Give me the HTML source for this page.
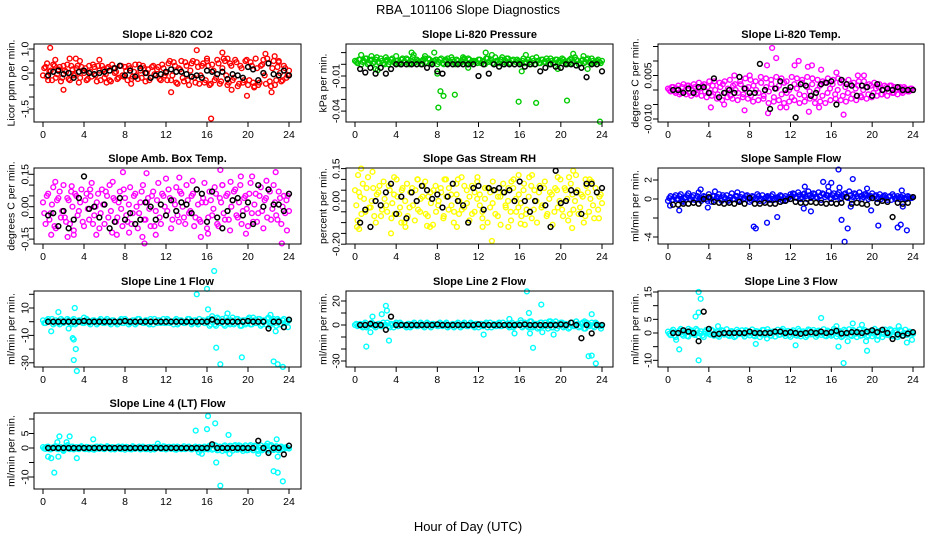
<!DOCTYPE html>
<html><head><meta charset="utf-8">
<style>
html,body{margin:0;padding:0;background:#fff;}
svg{display:block;font-family:"Liberation Sans",Arial,sans-serif;}
</style></head>
<body>
<svg id="chart" width="936" height="540" viewBox="0 0 936 540" xmlns="http://www.w3.org/2000/svg">
<text x="468" y="14" text-anchor="middle" font-size="13">RBA_101106  Slope Diagnostics</text>
<text x="468" y="531" text-anchor="middle" font-size="13">Hour of Day (UTC)</text>
</svg>
<script>
const xTicks = [0,4,8,12,16,20,24];

// CO2
const co2Main = [-0.1,0.25,-0.3,0.1,0.35,-0.2,0.15,-0.35,0.3,0.05,-0.25,0.3,-0.1,0.2,-0.4,0.25,0.0,
-0.3,0.3,-0.15,0.25,-0.35,0.1,0.3,-0.2,0.2,-0.3,0.35,0.0,-0.25,0.3,-0.1,0.25,
-0.3,0.2,-0.15,0.35,-0.25,0.1,0.3,-0.35,0.15,-0.2,0.3,-0.1,0.25,-0.3,0.2,0.0,
0.4,-0.3,0.45,-0.4,0.2,0.5,-0.35,0.3,-0.5,0.4,-0.2,0.45,-0.45,0.3,-0.4,0.5,
-0.5,0.35,-0.3,0.55,-0.45,0.2,0.5,-0.5,0.4,-0.3,0.55,-0.55,0.3,-0.4,0.5,-0.5,
0.45,-0.4,0.6,-0.5,0.3,0.55,-0.45,0.4,-0.55,0.5,-0.3,0.45,-0.35,0.3,-0.2,0.1];
const co2B = [0.2,-0.15,0.05,-0.3,0.3,-0.05,0.25,-0.2,0.1,0.35,-0.3,0.15,-0.05,0.3,-0.2,0.1,
0.2,-0.25,0.05,0.35,-0.1,0.3,-0.3,0.15,-0.05,0.25,-0.35,0.2,0.05,-0.2,0.3,-0.15,
0.1,0.3,-0.25,0.05,-0.1,0.35,-0.2,0.2,0.0,-0.3,0.25,-0.05,0.15,-0.25,0.35,-0.1,
-0.3,0.5,-0.1,0.3,-0.45,0.15,-0.2,0.45,-0.3,0.1,0.5,-0.4,0.25,-0.1,0.4,-0.3,
0.3,-0.45,0.1,-0.2,0.4,-0.35,0.6,-0.1,-0.4,0.3,-0.2,0.45,-0.45,0.2,-0.3,0.55,
-0.3,0.3,-0.55,0.2,-0.4,0.35,-0.1,0.6,-0.35,0.2,-0.5,0.25,0.0,-0.3,0.2,-0.1];
const co2OutX = [0.7,1.2,2.0,2.6,3.2,3.6,8.6,12.5,15.0,16.4,17.5,18.4,18.0,19.9,20.6,21.7,22.3,22.6,23.0,16.0,0.4,5.5,6.2];
const co2OutY = [1.05,0.55,-0.7,0.6,0.6,0.5,-0.45,-0.8,0.95,-1.9,0.85,-0.7,0.6,-0.95,-0.6,0.8,-0.8,0.7,0.5,0.6,0.4,0.55,-0.4];
const co2Black = [-0.1,0.05,0.1,-0.05,0.0,-0.2,0.05,0.1,0.0,-0.05,0.0,0.05,0.1,0.2,0.3,-0.1,0.1,-0.15,0.2,0.0,-0.2,-0.1,-0.05,0.05,0.15,0.05,0.05,-0.05,-0.15,-0.1,-0.2,0.1,0.05,-0.05,0.05,-0.25,-0.05,-0.1,-0.2,0.25,0.15,-0.3,0.0,0.4,-0.05,-0.1,0.1,-0.1];

// Pressure
const presMain = [0.003,0.001,0.004,0.002,0.005,0.0,0.003,0.001,0.004,0.002,0.005,0.001,0.003,0.0,0.004,0.002,0.003,
0.001,0.004,0.002,0.005,0.0,0.003,0.001,0.004,0.002,0.003,0.005,0.001,0.004,0.002,0.003,0.0,
0.004,0.001,0.003,0.005,0.002,0.004,0.0,0.003,0.001,0.004,0.002,0.005,0.001,0.003,0.002,0.004,
0.001,0.003,0.005,0.002,0.004,0.0,0.003,0.001,0.004,0.002,0.005,0.001,0.003,0.0,0.004,0.002,
0.003,0.001,0.004,0.002,0.005,0.0,0.003,0.001,0.004,0.002,0.003,0.005,0.001,0.004,0.002,0.003,
0.004,0.001,0.003,0.005,0.002,0.004,0.0,0.003,0.001,0.004,0.002,0.005,0.001,0.003,0.002,0.003];
const presB = [0.002,0.004,0.0,0.003,0.005,0.001,0.004,0.002,0.006,0.001,0.003,0.0,0.004,0.002,0.005,0.001,
0.003,0.0,0.005,0.002,0.004,0.001,0.006,0.002,0.003,0.0,0.004,0.002,0.005,0.001,0.003,0.004,
0.002,0.005,0.0,0.003,0.001,0.006,0.002,0.004,0.001,0.003,0.005,0.0,0.004,0.002,0.003,0.001,
0.004,0.002,0.0,0.005,0.003,0.001,0.006,0.002,0.004,0.0,0.003,0.005,0.001,0.004,0.002,0.003,
0.001,0.005,0.002,0.004,0.0,0.003,0.006,0.001,0.004,0.002,0.005,0.0,0.003,0.001,0.004,0.002,
0.005,0.002,0.0,0.004,0.001,0.006,0.003,0.001,0.004,0.002,0.005,0.001,0.003,0.002,0.004,0.001];
const presOutX = [0.6,1.6,2.0,5.5,5.7,6.8,7.7,8.1,8.3,8.6,9.7,8.8,8.0,12.7,13.3,15.9,16.2,16.6,17.6,20.6,21.2,22.2,22.6,23.8,3.0,4.0,10.5,14.3,2.2,11.0,19.7];
const presOutY = [0.008,0.007,-0.004,0.01,0.008,0.007,0.01,-0.037,-0.023,-0.027,-0.026,0.004,-0.008,0.01,0.008,-0.032,-0.006,0.008,-0.033,-0.031,0.009,0.007,-0.004,-0.049,0.006,0.007,0.006,0.006,-0.005,-0.003,-0.004];
const presBlack = [-0.004,-0.007,-0.003,-0.008,-0.003,-0.008,-0.004,0,0,0,0,0,0,-0.003,0,-0.006,-0.008,0,0,0,0,0,0,-0.01,0,-0.008,0,-0.002,0,0,0,0,-0.002,0,0,-0.006,-0.003,0,-0.002,-0.003,0,0,-0.001,-0.003,-0.011,0,0,-0.006];

// Li-820 Temp
const tempMain = [0.0005,-0.0005,0.001,-0.001,0.0015,-0.001,0.002,-0.0015,0.0015,-0.002,0.002,-0.0015,0.0025,-0.002,0.002,-0.0025,0.003,
-0.002,0.003,-0.003,0.0025,-0.0035,0.003,-0.0025,0.0035,-0.003,0.002,-0.0035,0.003,-0.0025,0.004,-0.003,
0.0035,-0.004,0.003,-0.0035,0.0045,-0.003,0.004,-0.0045,0.0035,-0.004,0.0045,-0.0035,0.004,-0.0045,0.003,-0.004,
0.0045,-0.0035,0.004,-0.0045,0.0035,-0.004,0.0045,-0.003,0.004,-0.0045,0.0035,-0.004,0.003,-0.0045,0.004,-0.0035,
0.0035,-0.003,0.004,-0.0035,0.003,-0.004,0.0035,-0.003,0.0025,-0.0035,0.003,-0.0025,0.003,-0.003,0.002,-0.0025,
0.0025,-0.002,0.002,-0.0015,0.0015,-0.002,0.0015,-0.001,0.001,-0.0015,0.001,-0.001,0.0005,-0.0005,0.0005,0.0];
const tempB = [0.0,0.001,-0.0005,0.0005,-0.0015,0.001,-0.0005,0.0015,-0.001,0.0,0.001,-0.001,0.0005,0.0015,-0.0005,0.001,
-0.001,0.0015,0.0,-0.0015,0.001,0.002,-0.001,0.0005,-0.002,0.0015,0.0,-0.001,0.002,-0.0015,0.0005,0.001,
-0.002,0.0015,0.0,-0.001,0.0025,-0.002,0.001,-0.0005,0.002,-0.0025,0.0005,0.0015,-0.0015,0.0025,-0.001,0.0,
-0.0025,0.002,0.0005,-0.0015,0.0025,-0.002,0.001,-0.0005,0.002,-0.0025,0.0,0.0015,-0.002,0.0025,-0.001,0.0005,
0.002,-0.0015,0.0,0.0025,-0.002,0.001,-0.001,0.002,-0.0015,0.0005,0.0015,-0.002,0.0,0.001,-0.0015,0.0015,
-0.001,0.0005,0.001,-0.0015,0.0,0.001,-0.0005,0.0015,-0.001,0.0,0.0005,-0.0005,0.001,0.0,-0.0005,0.0005];
const tempOutX = [10.2,10.6,9.7,12.8,12.4,13.7,14.1,17.2,9.8,13.8,7.5,16.5,18.6,5.5,11.0,6.5,15.0,4.2,8.0,11.6,14.8,19.2];
const tempOutY = [0.0145,0.011,0.0085,0.01,0.0085,0.008,0.0085,-0.0085,-0.008,-0.0075,-0.007,0.006,0.005,-0.005,-0.006,0.005,0.007,-0.006,0.005,-0.006,-0.006,0.005];
const tempBlack = [0,0,-0.001,0.0005,-0.001,0.001,0.001,-0.001,0.004,-0.0025,-0.001,0,-0.001,0.0045,0.0005,-0.001,-0.001,0.009,0,-0.0065,0.0005,0.003,0,0.001,-0.0095,0.002,0.0015,-0.002,-0.001,0.002,0.0025,0.003,-0.005,0.0035,0.002,0.0015,-0.002,0.0015,0.001,-0.002,0.002,0,0.0005,0,0.001,0,0,0];

// Amb box temp
const ambMain = [0.02,-0.08,0.06,-0.03,0.09,-0.1,0.04,-0.05,0.1,-0.07,0.03,0.07,-0.11,0.05,-0.02,0.08,-0.09,
0.06,-0.06,0.11,-0.04,0.02,-0.1,0.08,-0.08,0.05,0.1,-0.12,0.03,-0.05,0.07,-0.09,0.04,
-0.07,0.09,-0.03,0.06,-0.1,0.02,0.1,-0.06,0.04,-0.09,0.07,-0.02,0.11,-0.08,0.05,-0.04,
0.08,-0.1,0.03,0.09,-0.07,0.06,-0.05,0.1,-0.03,0.05,-0.09,0.08,-0.06,0.02,0.11,-0.1,
0.07,-0.04,0.09,-0.08,0.04,0.1,-0.06,0.06,-0.11,0.03,0.08,-0.05,0.1,-0.02,0.05,-0.09,
0.11,-0.07,0.06,-0.03,0.09,-0.1,0.04,0.08,-0.06,0.1,-0.04,0.07,-0.08,0.05,0.03,-0.02];
const ambB = [-0.03,0.05,-0.06,0.01,-0.09,0.03,0.07,-0.02,-0.05,0.04,-0.08,0.0,0.06,-0.04,0.02,-0.07,
0.03,-0.01,0.05,-0.08,0.0,0.06,-0.03,0.01,0.07,-0.05,-0.02,0.04,-0.07,0.02,-0.01,0.08,
-0.04,0.01,-0.08,0.05,0.0,-0.03,0.07,-0.06,0.02,-0.01,0.05,-0.09,0.03,-0.05,0.06,0.0,
-0.02,0.04,-0.06,0.01,-0.04,0.07,0.0,-0.08,0.03,-0.02,0.06,-0.05,0.01,-0.07,0.04,0.02,
-0.05,0.03,-0.01,0.06,-0.09,0.02,-0.03,0.05,-0.06,0.0,0.07,-0.04,0.02,-0.08,0.04,-0.01,
0.06,-0.03,0.01,-0.07,0.05,-0.02,0.03,-0.05,0.07,-0.01,0.02,-0.06,0.04,0.0,-0.03,0.05];
const ambOutX = [1.2,2.8,3.0,5.2,6.8,7.8,9.7,9.9,10.1,11.0,12.0,13.3,15.4,17.3,17.5,18.3,19.3,19.8,20.4,22.7,23.3,23.8,0.8,7.2,2.4,16.1,21.8,4.6,14.6,8.4];
const ambOutY = [0.115,0.095,-0.13,-0.13,0.115,0.16,-0.14,-0.17,0.155,-0.13,0.13,0.135,-0.14,0.17,0.1,0.115,0.14,-0.125,0.14,0.16,-0.17,-0.11,-0.13,-0.13,-0.14,-0.125,0.12,0.08,0.12,-0.12];
const ambBlack = [-0.04,-0.03,-0.09,-0.02,-0.1,-0.06,0.04,0.14,-0.01,0.0,-0.05,0.01,-0.1,-0.07,0.04,-0.06,-0.03,-0.08,-0.06,0.02,0.0,-0.06,0.01,-0.04,0.03,-0.02,0.02,0.01,-0.03,0.08,0.06,-0.07,0.07,-0.05,-0.1,-0.02,0.03,0.04,-0.04,0.02,-0.08,0.1,0.0,0.08,0.01,0.01,-0.02,0.06];

// Gas stream RH
const rhMain = [0.05,-0.09,0.02,0.08,-0.05,0.11,-0.03,0.06,-0.1,0.04,-0.07,0.09,-0.02,0.07,-0.08,0.03,0.1,
-0.06,0.05,-0.1,0.08,-0.03,0.06,-0.09,0.1,-0.05,0.02,0.09,-0.07,0.04,-0.11,0.07,-0.02,
0.06,-0.08,0.1,-0.04,0.03,-0.1,0.08,-0.06,0.11,-0.03,0.05,-0.09,0.07,-0.05,0.09,-0.02,
-0.08,0.06,-0.1,0.04,0.09,-0.06,0.02,-0.11,0.08,-0.03,0.06,-0.09,0.1,-0.05,0.03,-0.07,
0.08,-0.04,0.11,-0.08,0.05,-0.1,0.07,-0.02,0.09,-0.06,0.04,-0.11,0.06,-0.03,0.1,-0.07,
0.05,-0.09,0.08,-0.04,0.12,-0.06,0.03,-0.1,0.07,-0.05,0.09,-0.08,0.04,0.02,-0.01];
const rhB = [-0.02,0.04,-0.06,0.01,0.06,-0.03,0.0,-0.07,0.03,0.07,-0.04,0.01,-0.05,0.05,-0.01,-0.06,
0.02,-0.03,0.06,0.0,-0.07,0.04,-0.02,0.05,-0.04,0.01,0.07,-0.06,0.02,-0.01,0.05,-0.05,
0.0,0.04,-0.07,0.02,0.06,-0.02,-0.05,0.03,0.0,-0.04,0.07,-0.01,0.02,-0.06,0.04,0.01,
0.03,-0.05,0.01,0.06,-0.03,-0.01,0.05,-0.07,0.02,0.04,-0.02,0.0,-0.05,0.06,0.01,-0.03,
-0.01,0.05,-0.06,0.02,0.07,-0.04,0.0,0.04,-0.03,0.06,-0.07,0.01,0.03,-0.05,0.05,0.0,
-0.04,0.06,0.01,-0.06,0.03,0.0,0.05,-0.03,0.02,-0.07,0.04,0.01,-0.02,0.06,-0.04,0.03];
const rhOutX = [0.3,0.6,0.2,1.7,3.5,4.5,4.9,6.1,7.3,7.0,8.7,10.0,11.9,12.4,13.3,15.2,15.9,16.5,17.2,19.7,21.2,21.1,22.4,22.8,23.7,0.4,14.9,16.1,20.8,3.8,9.9];
const rhOutY = [0.12,0.15,-0.12,0.135,-0.15,-0.1,-0.12,0.1,-0.12,-0.115,0.1,0.1,0.11,-0.12,-0.185,0.09,0.12,-0.11,0.12,0.11,0.14,-0.125,0.1,0.1,-0.08,-0.13,-0.12,-0.105,0.11,0.11,-0.12];
const rhBlack = [-0.1,-0.04,-0.12,0.0,-0.02,0.04,0.08,-0.06,0.02,-0.08,0.04,0.0,0.07,0.05,0.01,0.03,-0.03,0.02,0.08,0.0,-0.02,-0.1,0.06,0.07,-0.04,0.06,0.05,0.06,0.04,0.05,0.0,0.09,0.0,-0.05,0.0,0.06,-0.02,-0.12,0.14,-0.01,0.0,0.05,0.04,-0.06,0.08,0.08,0.04,0.06];

// Sample flow
const sfMain = [-0.2,0.3,-0.1,0.4,0.0,0.5,-0.3,0.2,0.6,-0.1,0.4,0.1,0.7,-0.2,0.3,0.0,0.5,
-0.3,0.3,0.1,0.5,-0.2,0.2,0.4,-0.1,0.6,0.0,0.3,-0.2,0.5,0.1,0.4,-0.3,
0.3,0.0,0.5,-0.2,0.4,0.1,0.3,-0.1,0.5,0.0,0.2,0.4,-0.2,0.3,0.1,0.5,
0.6,0.2,0.7,0.0,0.5,0.3,0.8,0.1,0.6,0.2,0.7,-0.1,0.5,0.4,0.8,0.0,
0.6,0.3,0.7,0.1,0.5,0.2,0.8,-0.1,0.6,0.3,0.7,0.0,0.5,0.4,0.2,0.6,
0.3,0.0,0.5,0.2,0.4,-0.1,0.3,0.5,0.0,0.3,0.2,0.4,0.0,0.3,0.1,0.2];
const sfB = [0.1,-0.1,0.2,0.0,0.3,-0.2,0.1,0.4,0.0,0.2,-0.1,0.3,0.1,0.0,0.2,-0.2,
0.1,0.3,-0.1,0.2,0.0,0.4,0.1,-0.2,0.2,0.0,0.3,-0.1,0.2,0.0,0.3,0.1,
-0.1,0.2,0.1,0.3,0.0,-0.2,0.2,0.1,0.3,-0.1,0.1,0.0,0.3,0.1,-0.1,0.2,
0.3,0.5,0.1,0.4,0.2,0.6,0.0,0.4,0.3,0.5,0.1,0.3,0.6,0.2,0.4,0.1,
0.4,0.2,0.5,0.0,0.3,0.6,0.1,0.4,0.2,0.5,0.1,0.3,0.2,0.5,0.0,0.3,
0.1,0.4,0.2,0.0,0.3,0.1,0.2,-0.1,0.3,0.1,0.0,0.2,0.1,0.0,0.2,0.1];
const sfOutX = [8.4,8.6,9.7,10.7,13.4,15.2,15.7,16.0,16.7,16.8,17.0,17.3,17.6,18.1,19.5,20.6,22.5,22.8,23.4,22.9,1.1,3.2,4.6,3.9,14.0,13.3,19.9,23.0,0.2,17.9,6.8];
const sfOutY = [-2.9,-3.1,-2.5,-1.9,1.3,1.8,1.3,1.7,3.1,1.2,-2.2,-4.5,-3.1,2.1,1.1,-2.8,-3.0,-2.7,-3.3,0.9,-1.2,1.0,0.8,-0.9,-1.3,-1.0,-1.2,-0.8,-0.7,-0.8,0.7];
const sfBlack = [-0.6,-0.6,-0.5,-0.5,-0.4,-0.5,0.0,0.2,-0.3,-0.4,-0.5,-0.4,-0.5,-0.3,-0.5,0.1,-0.5,-0.5,-0.4,-0.5,-0.5,-0.3,-0.2,0.0,-0.3,-0.4,-0.4,-0.3,-0.4,-0.4,-0.5,-0.4,-0.5,-0.4,0.2,-0.5,-0.4,-0.5,-0.6,0.1,-0.4,-0.2,-0.3,-1.9,-0.4,-0.5,-0.4,0.2];

// Line 1 flow
const l1Main = [1,-1,2,0,-2,1,-1,2,-1,0,1,-2,2,-1,1,0,-1,
2,-1,0,1,-2,1,0,-1,2,-1,1,0,-2,1,-1,2,
0,-1,1,-2,2,0,-1,1,-1,2,-2,0,1,-1,2,-1,
1,0,-2,2,-1,1,-1,0,2,-2,1,-1,2,0,-1,1,
-3,2,-2,3,-1,2,-3,1,-2,3,-1,2,-3,1,-2,2,
-2,3,-1,2,-3,1,-2,3,-1,2,-3,1,-2,2,0,1];
const l1B = [-1,1,0,2,-1,0,-2,1,0,2,-1,1,-2,0,1,-1,
0,1,-2,1,0,-1,2,-1,1,0,-2,1,-1,0,2,-1,
1,-2,0,1,-1,2,0,-1,1,-2,0,2,-1,1,0,-1,
2,-1,0,1,-2,1,0,-1,2,0,-1,1,-2,0,1,-1,
2,-2,1,-3,2,0,-2,3,-1,1,-2,2,0,-3,1,-1,
3,-2,1,-1,2,-2,0,2,-3,1,-1,2,-2,1,-1,0];
const l1OutX = [1.5,2.9,3.0,3.1,3.2,3.0,3.3,0.8,15.0,16.0,16.7,16.9,16.1,17.3,19.4,22.5,22.9,23.4,22.2,22.7,23.9,18.0,2.5,4.0,16.5];
const l1OutY = [7,-12,-13,10,-20,-28,-36,-7,20,24,37,-19,9,-31,-26,-29,-31,-33,5,-7,-4,6,-5,3,4];
const l1Black = [0,0,0,0,0,0,0,0.5,0,0,0,0,0,0,0,0.5,0,0,0,0,0,0,0,0,0,0,0,0,0,0,0,0,1.5,0,0,0,0,0,0,0.5,0,0,0,-5,0,0,-4,1.5];

// Line 2 flow
const l2Main = [0,-1,1,-2,2,-1,0,1,-2,1,-1,2,0,-1,1,-2,2,
-1,1,0,-2,1,-1,2,-1,0,1,-2,2,-1,1,0,-1,
2,-1,1,-2,0,1,-1,2,-2,1,0,-1,2,-1,1,-2,
1,-1,2,0,-2,1,-1,2,-1,0,1,-2,2,-1,1,0,
-2,2,-1,3,-2,1,-3,2,-1,2,-3,1,-2,3,-1,2,
-2,1,-3,2,-1,3,-2,1,-3,2,-1,2,-2,1,-1,0];
const l2B = [1,0,-1,1,-2,0,2,-1,0,1,-1,0,2,-2,0,1,
-1,2,0,-1,1,-2,1,0,-1,2,-1,0,1,-2,1,0,
-1,1,0,2,-1,0,-2,1,0,-1,2,-1,0,1,-2,1,
0,-1,1,-2,2,0,-1,1,-1,2,0,-1,1,-2,0,1,
2,-1,0,-2,3,-1,1,-2,2,0,-1,3,-2,1,-3,1,
2,-1,0,-2,2,-1,1,-1,2,-3,1,0,-1,2,0,-1];
const l2OutX = [1.1,1.5,1.7,2.6,3.0,3.1,3.3,12.5,15.0,15.5,16.7,16.9,17.3,17.0,18.1,18.2,19.3,22.7,23.0,23.0,23.4,16.1,19.0,22.3,23.9];
const l2OutY = [-18,-6,7,9,16,12,-13,-8,5,-7,28,10,-19,-7,17,-6,-8,-26,-25.5,9,-32,4,3,3,-3];
const l2Black = [0,0,1,0,0,-4,7,0,0,0,0,0,0,0,0,0.5,0,0,0,0,0,0,0,0.5,0,0,0,0,0,0,0,0,0.5,0,0,0,0,0,0,0.5,0,2,0,-11,0,-7,0,0];

// Line 3 flow
const l3Main = [0.5,-0.8,1.2,-1.5,0.3,1.5,-1.0,0.8,-1.3,1.0,-0.5,1.5,-1.2,0.6,-1.5,1.1,-0.3,
1.2,-1.0,0.5,-1.4,1.0,-0.6,1.4,-1.1,0.7,-1.5,1.2,-0.4,1.0,-1.3,0.8,-0.9,
1.3,-1.2,0.6,-1.5,1.1,-0.7,1.4,-1.0,0.5,-1.3,1.2,-0.6,1.5,-1.1,0.8,-1.4,
1.0,-0.8,1.5,-1.2,0.6,-1.5,1.3,-0.5,1.1,-1.4,0.9,-0.7,1.4,-1.2,0.5,-1.0,
1.5,-1.3,0.8,-1.5,1.2,-0.6,1.4,-1.1,0.7,-1.5,1.3,-0.9,1.1,-1.4,0.6,-1.2,
1.5,-1.0,0.8,-1.5,1.3,-0.7,1.4,-1.2,0.9,-1.5,1.1,-0.8,1.2,-0.6,0.4,-0.3];
const l3B = [-0.3,0.6,-1.0,0.2,0.9,-0.5,0.0,-1.1,0.7,0.3,-0.7,1.0,-0.2,-0.9,0.5,0.1,
-0.6,0.8,0.0,-1.0,0.4,0.9,-0.3,-0.8,0.6,0.2,-1.1,0.5,0.0,-0.6,1.0,-0.2,
0.3,-0.9,0.7,0.0,-0.5,1.1,-0.3,0.4,-1.0,0.6,0.1,-0.7,0.9,-0.4,0.2,-0.8,
0.5,0.0,-1.0,0.8,-0.3,0.2,-0.9,1.0,-0.5,0.3,-0.7,0.6,0.0,-1.0,0.9,-0.2,
-0.6,1.0,-0.4,0.3,-1.1,0.7,0.0,-0.8,1.1,-0.3,0.4,-1.0,0.6,0.1,-0.9,0.8,
-0.2,0.5,-1.1,0.9,-0.4,0.2,-0.8,1.0,-0.6,0.3,-0.9,0.7,0.0,-0.7,0.5,-0.1];
const l3OutX = [3.0,3.2,3.0,2.7,3.0,1.1,0.8,8.6,9.7,12.5,15.0,16.7,16.5,17.2,17.6,18.1,19.0,19.4,19.5,20.5,22.6,23.4,23.9,2.0,4.9];
const l3OutY = [15,12.5,7.5,6,-10,-6,-2.5,-4,-2,-4.5,5.5,-5,2.5,-11,-3,3.5,3,-3,-6.5,-2.5,2.5,-3.5,-2.5,1.5,2.5];
const l3Black = [0,0,1,0.5,0,-3,7.8,1.5,-0.5,-0.3,0,0,0,0,0,0.5,0,0,0,0,0.5,0.5,0,0.3,0,-0.3,0,0.3,0,0.5,0,0.3,0.8,-0.2,0,0.3,0.3,0,0.5,1,0.3,1.2,0,-2.2,-0.5,-1,-0.2,0.3];

// Line 4 flow
const l4Main = [0.3,-0.3,0.5,-0.5,0.2,0.6,-0.4,0.3,-0.6,0.5,-0.2,0.4,-0.5,0.3,-0.4,0.6,-0.3,
0.4,-0.5,0.2,-0.6,0.5,-0.3,0.4,-0.4,0.6,-0.2,0.3,-0.5,0.4,-0.3,0.5,-0.6,
0.3,-0.4,0.6,-0.3,0.2,-0.5,0.5,-0.4,0.3,-0.6,0.4,-0.2,0.5,-0.3,0.6,-0.5,
0.4,-0.3,0.5,-0.6,0.3,-0.4,0.6,-0.2,0.5,-0.5,0.3,-0.4,0.4,-0.6,0.5,-0.3,
0.8,-0.6,1.0,-0.8,0.5,-1.0,0.9,-0.5,0.8,-0.9,1.0,-0.6,0.7,-1.0,0.9,-0.7,
1.0,-0.8,0.6,-1.0,0.9,-0.5,0.8,-0.9,1.0,-0.7,0.6,-0.8,0.5,-0.4,0.3,-0.2];
const l4B = [-0.2,0.4,-0.4,0.1,0.5,-0.3,0.0,-0.5,0.3,0.2,-0.4,0.5,-0.1,-0.3,0.4,0.0,
-0.4,0.3,0.1,-0.5,0.4,-0.2,0.5,-0.3,0.0,0.4,-0.5,0.2,-0.1,0.5,-0.4,0.1,
0.4,-0.2,-0.5,0.3,0.0,0.5,-0.3,0.2,-0.4,0.4,-0.1,-0.5,0.3,0.1,-0.3,0.5,
-0.2,0.4,0.0,-0.5,0.5,-0.1,0.2,-0.4,0.4,-0.3,0.0,0.5,-0.5,0.2,0.1,-0.4,
-0.5,0.7,-0.3,0.8,-0.7,0.2,0.6,-0.8,0.4,-0.2,0.7,-0.6,0.9,-0.4,0.3,-0.8,
0.6,-0.3,0.8,-0.6,0.2,-0.8,0.5,-0.4,0.7,-0.5,0.3,-0.6,0.4,-0.3,0.2,0.0];
const l4OutX = [0.5,0.8,1.1,1.5,1.4,1.6,2.3,2.6,2.0,3.3,4.9,11.2,14.9,15.2,16.0,16.1,16.8,16.9,17.3,18.1,18.2,19.0,21.0,21.9,22.5,22.9,22.8,22.9,23.4,2.4,15.5];
const l4OutY = [-3,-3.5,-8.5,-3,2,4,2,4,-1,-3.5,3,1.5,6,-1.5,6.5,11,8.5,-5,-13,4.5,-2,0.5,-2,1.5,-8,-8.5,3,-3,-11.5,1,-2];
const l4Black = [0,0,0,0,0,0,0,0,0,0,0,0,0,0,0,0,0,0,0,0,0,0,0,0,0,0,0,0,0,0,0,0,1.3,0,0,0,0,0,0,0,0,2.5,0,-1.7,0,0,-2.2,0.8];

const co2Ticks = [-1.5,-1,-0.5,0,0.5,1];      const co2Labels = ["-1.5","","","0.0","","1.0"];
const presTicks = [-0.04,-0.03,-0.02,-0.01,0,0.01]; const presLabels = ["-0.04","","","-0.01","",""];
const tempTicks = [-0.01,-0.005,0,0.005,0.01,0.015]; const tempLabels = ["-0.010","","","0.005","",""];
const ambTicks = [-0.15,-0.1,-0.05,0,0.05,0.1,0.15]; const ambLabels = ["-0.15","","","0.00","","","0.15"];
const rhTicks = [-0.2,-0.15,-0.1,-0.05,0,0.05,0.1,0.15]; const rhLabels = ["-0.20","","","","0.00","","","0.15"];
const sfTicks = [-4,-2,0,2]; const sfLabels = ["-4","","0","2"];
const l1Ticks = [-30,-20,-10,0,10,20]; const l1Labels = ["-30","","-10","","10",""];
const l2Ticks = [-30,-20,-10,0,10,20]; const l2Labels = ["-30","","","0","","20"];
const l3Ticks = [-10,-5,0,5,10,15]; const l3Labels = ["-10","","0","5","","15"];
const l4Ticks = [-10,-5,0,5,10]; const l4Labels = ["-10","","0","5",""];

const NS = "http://www.w3.org/2000/svg";
const svg = document.getElementById('chart');
function mk(tag, attrs, parent){ const e=document.createElementNS(NS,tag); for(const k in attrs) e.setAttribute(k,attrs[k]); (parent||svg).appendChild(e); return e; }

const cols = [{l:34,r:301,x0:43,x24:289,ty:25,yt:11},{l:346,r:613,x0:355,x24:602,ty:336,yt:323},{l:658,r:924,x0:668,x24:913,ty:648,yt:635}];
const rows = [{t:44,b:122},{t:168,b:244},{t:291,b:367},{t:413,b:489}];

const panels = [
 {name:'co2',title:'Slope Li-820 CO2',ylab:'Licor ppm per min.',c:0,r:0,color:'#ff0000',v0:0,p0:73,v1:1,p1:49,main:co2Main,mainB:co2B,ox:co2OutX,oy:co2OutY,blk:co2Black,ticks:co2Ticks,labels:co2Labels},
 {name:'pressure',title:'Slope Li-820 Pressure',ylab:'kPa per min.',c:1,r:0,color:'#00cc00',v0:0,p0:64.3,v1:-0.01,p1:76,main:presMain,mainB:presB,ox:presOutX,oy:presOutY,blk:presBlack,ticks:presTicks,labels:presLabels},
 {name:'li820-temp',title:'Slope Li-820 Temp.',ylab:'degrees C per min.',c:2,r:0,color:'#ff00ff',v0:0,p0:90,v1:0.005,p1:75.5,main:tempMain,mainB:tempB,ox:tempOutX,oy:tempOutY,blk:tempBlack,ticks:tempTicks,labels:tempLabels},
 {name:'amb-box-temp',title:'Slope Amb. Box Temp.',ylab:'degrees C per min.',c:0,r:1,color:'#ff00ff',v0:0,p0:206.7,v1:0.05,p1:195.9,main:ambMain,mainB:ambB,ox:ambOutX,oy:ambOutY,blk:ambBlack,ticks:ambTicks,labels:ambLabels},
 {name:'gas-stream-rh',title:'Slope Gas Stream RH',ylab:'percent per min.',c:1,r:1,color:'#ffff00',v0:0,p0:201,v1:0.05,p1:190.2,main:rhMain,mainB:rhB,ox:rhOutX,oy:rhOutY,blk:rhBlack,ticks:rhTicks,labels:rhLabels},
 {name:'sample-flow',title:'Slope Sample Flow',ylab:'ml/min per min.',c:2,r:1,color:'#0000ff',v0:0,p0:199,v1:2,p1:180,main:sfMain,mainB:sfB,ox:sfOutX,oy:sfOutY,blk:sfBlack,ticks:sfTicks,labels:sfLabels},
 {name:'line1-flow',title:'Slope Line 1 Flow',ylab:'ml/min per min.',c:0,r:2,color:'#00ffff',v0:0,p0:321.7,v1:10,p1:308,main:l1Main,mainB:l1B,ox:l1OutX,oy:l1OutY,blk:l1Black,ticks:l1Ticks,labels:l1Labels},
 {name:'line2-flow',title:'Slope Line 2 Flow',ylab:'ml/min per min.',c:1,r:2,color:'#00ffff',v0:0,p0:325,v1:20,p1:301,main:l2Main,mainB:l2B,ox:l2OutX,oy:l2OutY,blk:l2Black,ticks:l2Ticks,labels:l2Labels},
 {name:'line3-flow',title:'Slope Line 3 Flow',ylab:'ml/min per min.',c:2,r:2,color:'#00ffff',v0:0,p0:333,v1:15,p1:292,main:l3Main,mainB:l3B,ox:l3OutX,oy:l3OutY,blk:l3Black,ticks:l3Ticks,labels:l3Labels},
 {name:'line4-flow',title:'Slope Line 4 (LT) Flow',ylab:'ml/min per min.',c:0,r:3,color:'#00ffff',v0:0,p0:448,v1:5,p1:433.5,main:l4Main,mainB:l4B,ox:l4OutX,oy:l4OutY,blk:l4Black,ticks:l4Ticks,labels:l4Labels}
];

panels.forEach(p=>{
  const col=cols[p.c], row=rows[p.r];
  const xs = h => col.x0 + (col.x24-col.x0)*h/24;
  const ys = v => p.p0 + (v-p.v0)*(p.p1-p.p0)/(p.v1-p.v0);
  const g = mk('g',{});
  
  
  const t = mk('text',{x:(col.l+col.r)/2,y:row.t-6,'text-anchor':'middle','font-size':11,'font-weight':'bold'},g);
  t.textContent=p.title;
  
  
  const yl = mk('text',{x:col.yt,y:(row.t+row.b)/2,'text-anchor':'middle','font-size':10.5,transform:`rotate(-90 ${col.yt} ${(row.t+row.b)/2})`,dy:'0.35em'},g);
  yl.textContent=p.ylab;
  
  
  const pts = mk('g',{fill:'none',stroke:p.color,'stroke-width':1.4},g);
  
  
  const n=p.main.length;
  p.main.forEach((v,i)=>{
    const c=mk('circle',{cx:xs(24*i/(n-1)),cy:ys(v),r:2.4},pts);
    
    
  });
  const nB=p.mainB.length;
  p.mainB.forEach((v,i)=>{
    const c=mk('circle',{cx:xs(24*(i+0.5)/nB),cy:ys(v),r:2.4},pts);
    
    
  });
  p.ox.forEach((h,i)=>{
    const c=mk('circle',{cx:xs(h),cy:ys(p.oy[i]),r:2.4},pts);
    
    
  });
  const bp = mk('g',{fill:'none',stroke:'#000','stroke-width':1.5},g);
  
  
  const nb=p.blk.length;
  p.blk.forEach((v,i)=>{
    const c=mk('circle',{cx:xs(24*(i+1)/nb),cy:ys(v),r:2.4},bp);
    
    
  });
  const box = mk('rect',{x:col.l,y:row.t,width:col.r-col.l,height:row.b-row.t,fill:'none',stroke:'#000','stroke-width':1},g);
  
  
  xTicks.forEach(h=>{
    const x=xs(h);
    mk('line',{x1:x,x2:x,y1:row.b,y2:row.b+5,stroke:'#000'},g);
    const tl=mk('text',{x:x,y:row.b+16,'text-anchor':'middle','font-size':10.5},g);
    tl.textContent=h;
    
    
  });
  p.ticks.forEach((v,i)=>{
    const y=ys(v);
    mk('line',{x1:col.l-5,x2:col.l,y1:y,y2:y,stroke:'#000'},g);
    if(p.labels[i]){
      const tl=mk('text',{x:col.ty,y:y,'text-anchor':'middle','font-size':10.5,transform:`rotate(-90 ${col.ty} ${y})`,dy:'0.35em'},g);
      tl.textContent=p.labels[i];
      
      
    }
  });
});
</script>
</body></html>
